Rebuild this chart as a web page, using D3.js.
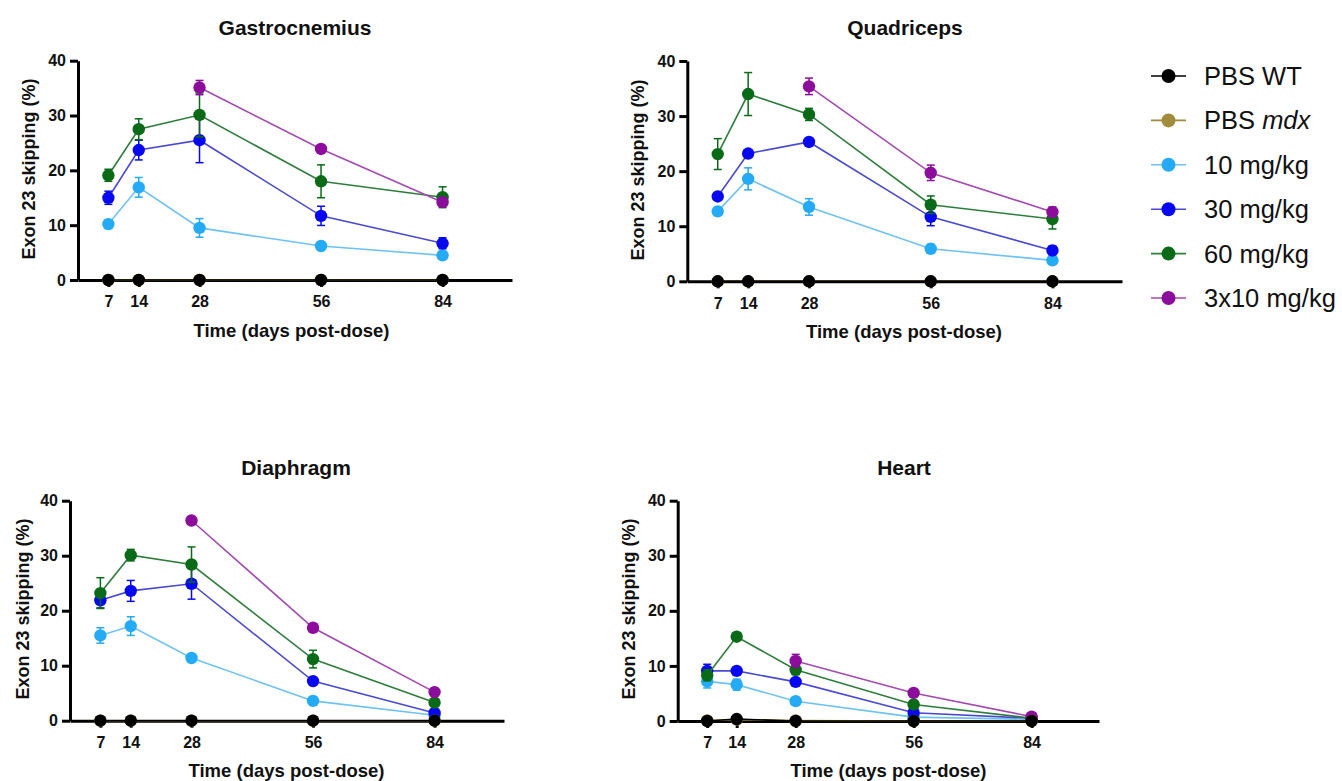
<!DOCTYPE html>
<html>
<head>
<meta charset="utf-8">
<script src="https://cdn.jsdelivr.net/npm/d3@7"></script>
<style>
  body { margin: 0; background: #fff; }
  svg { display: block; font-family: "Liberation Sans", Arial, sans-serif; }
</style>
</head>
<body>
<svg id="chart" width="1342" height="781"></svg>
<script>
// ---------- data ----------
const days = [7, 14, 28, 56, 84];
const yTicks = [0, 10, 20, 30, 40];
const seriesNames = ["PBS WT", "PBS mdx", "10 mg/kg", "30 mg/kg", "60 mg/kg", "3x10 mg/kg"];
const panelTitles = ["Gastrocnemius", "Quadriceps", "Diaphragm", "Heart"];

// means per series (order: WT, mdx, 10, 30, 60, 3x10)
const gastroMean = [
  [0, 0, 0, 0, 0],
  [0, 0, 0, 0, 0],
  [10.2, 16.9, 9.5, 6.2, 4.5],
  [15.0, 23.7, 25.5, 11.7, 6.7],
  [19.1, 27.5, 30.1, 18.0, 15.1],
  [null, null, 35.1, 23.9, 14.2]
];
const gastroErr = [
  [0, 0, 0, 0, 0],
  [0, 0, 0, 0, 0],
  [0.8, 1.8, 1.7, 0.3, 0.6],
  [1.2, 1.8, 4.1, 1.75, 1.0],
  [1.1, 1.9, 4.0, 3.0, 1.9],
  [null, null, 1.3, 0.3, 0.6]
];
const quadMean = [
  [0, 0, 0, 0, 0],
  [0, 0, 0, 0, 0],
  [12.7, 18.6, 13.5, 5.9, 3.8],
  [15.4, 23.2, 25.3, 11.7, 5.6],
  [23.1, 34.0, 30.3, 13.9, 11.3],
  [null, null, 35.4, 19.7, 12.6]
];
const quadErr = [
  [0, 0, 0, 0, 0],
  [0, 0, 0, 0, 0],
  [0.4, 2.0, 1.5, 0.8, 0.5],
  [0.3, 0.4, 0.4, 1.6, 0.8],
  [2.8, 3.9, 1.1, 1.6, 1.8],
  [null, null, 1.5, 1.4, 0.9]
];
const diaMean = [
  [0, 0, 0, 0, 0],
  [0, 0, 0, 0, 0],
  [15.5, 17.2, 11.4, 3.6, 1.0],
  [21.9, 23.6, 24.9, 7.2, 1.4],
  [23.2, 30.1, 28.4, 11.2, 3.3],
  [null, null, 36.4, 16.9, 5.2]
];
const diaErr = [
  [0, 0, 0, 0, 0],
  [0, 0, 0, 0, 0],
  [1.4, 1.7, 0.3, 0.3, 0.2],
  [1.4, 1.9, 2.8, 0.3, 0.3],
  [2.8, 1.05, 3.2, 1.6, 0.3],
  [null, null, 0.3, 0.3, 0.3]
];
const heartMean = [
  [0, 0.35, 0, 0, 0],
  [0.1, 0.25, 0.1, 0, 0],
  [7.2, 6.6, 3.6, 0.7, 0.3],
  [9.1, 9.1, 7.1, 1.5, 0.5],
  [8.3, 15.3, 9.3, 3.0, 0.5],
  [null, null, 10.9, 5.1, 0.8]
];
const heartErr = [
  [0, 0, 0, 0, 0],
  [0, 0, 0, 0, 0],
  [1.2, 1.0, 0.3, 0.2, 0.1],
  [1.2, 0.4, 0.3, 0.3, 0.1],
  [1.0, 0.4, 0.9, 0.3, 0.1],
  [null, null, 1.2, 0.3, 0.1]
];

// ---------- styles ----------
const markerColors = ["#000000", "#a08c3a", "#25aaf5", "#0808f0", "#0a6a18", "#8c0c9c"];
const lineColors   = ["#000000", "#a08c3a", "#6ec2f2", "#4a4ad0", "#2f7d3c", "#a24ab0"];
const drawOrder = [2, 3, 4, 5, 1, 0];

const panels = [
  { title: panelTitles[0], mean: gastroMean, err: gastroErr, x0: 78, x1: 512, yTop: 60.7, yBot: 280, titleX: 295, titleY: 34.5, xlabX: 291.5, xlabY: 336.5, ylabX: 35, ylabY: 169 },
  { title: panelTitles[1], mean: quadMean, err: quadErr, x0: 687.3, x1: 1122, yTop: 61, yBot: 281.3, titleX: 905, titleY: 34.5, xlabX: 904, xlabY: 337.5, ylabX: 644, ylabY: 170 },
  { title: panelTitles[2], mean: diaMean, err: diaErr, x0: 70, x1: 504, yTop: 500.7, yBot: 720.7, titleX: 296, titleY: 474.5, xlabX: 286.5, xlabY: 777, ylabX: 28.5, ylabY: 609 },
  { title: panelTitles[3], mean: heartMean, err: heartErr, x0: 677.7, x1: 1099, yTop: 500.7, yBot: 721, titleX: 904, titleY: 474.5, xlabX: 888.5, xlabY: 777, ylabX: 635, ylabY: 609 }
];

const svg = d3.select("#chart");

panels.forEach(p => {
  const x = d3.scaleLinear().domain([0, 100]).range([p.x0, p.x1]);
  const y = d3.scaleLinear().domain([0, 40]).range([p.yBot, p.yTop]);
  const g = svg.append("g");

  // axes
  const xAxis = g.append("g").attr("transform", `translate(0,${p.yBot})`)
    .call(d3.axisBottom(x).tickValues(days).tickSize(7).tickSizeOuter(0).tickPadding(9));
  const yAxis = g.append("g").attr("transform", `translate(${p.x0},0)`)
    .call(d3.axisLeft(y).tickValues(yTicks).tickSize(8).tickSizeOuter(0).tickPadding(4));
  [xAxis, yAxis].forEach(a => {
    a.select(".domain").attr("stroke", "#000").attr("stroke-width", 3);
    a.selectAll(".tick line").attr("stroke", "#000").attr("stroke-width", 3);
    a.selectAll(".tick text").attr("fill", "#111").attr("font-size", 16).attr("font-weight", "bold")
      .attr("font-family", "'Liberation Sans', Arial, sans-serif");
  });

  // titles
  g.append("text").attr("x", p.titleX).attr("y", p.titleY).attr("text-anchor", "middle")
    .attr("font-size", 21).attr("font-weight", "bold").attr("fill", "#111").text(p.title);
  g.append("text").attr("x", p.xlabX).attr("y", p.xlabY).attr("text-anchor", "middle")
    .attr("font-size", 18.5).attr("font-weight", "bold").attr("fill", "#111").text("Time (days post-dose)");
  g.append("text").attr("transform", `translate(${p.ylabX},${p.ylabY}) rotate(-90)`).attr("text-anchor", "middle")
    .attr("font-size", 18).attr("font-weight", "bold").attr("fill", "#111").text("Exon 23 skipping (%)");

  // series
  drawOrder.forEach(si => {
    const pts = days.map((d, i) => ({ d, v: p.mean[si][i], e: p.err[si][i] })).filter(o => o.v !== null);
    const line = d3.line().x(o => x(o.d)).y(o => y(o.v));
    const sg = g.append("g");
    sg.append("path").attr("d", line(pts)).attr("fill", "none")
      .attr("stroke", lineColors[si]).attr("stroke-width", 1.6);
    pts.filter(o => o.e > 0).forEach(o => {
      const eg = sg.append("g").attr("stroke", markerColors[si]).attr("stroke-width", 1.5);
      eg.append("line").attr("x1", x(o.d)).attr("x2", x(o.d)).attr("y1", y(o.v - o.e)).attr("y2", y(o.v + o.e));
      eg.append("line").attr("x1", x(o.d) - 4).attr("x2", x(o.d) + 4).attr("y1", y(o.v - o.e)).attr("y2", y(o.v - o.e));
      eg.append("line").attr("x1", x(o.d) - 4).attr("x2", x(o.d) + 4).attr("y1", y(o.v + o.e)).attr("y2", y(o.v + o.e));
    });
    sg.selectAll("circle").data(pts).enter().append("circle")
      .attr("cx", o => x(o.d)).attr("cy", o => y(o.v)).attr("r", 6.2)
      .attr("fill", markerColors[si]);
  });
});

// legend
const legend = svg.append("g");
seriesNames.forEach((name, i) => {
  const yy = 76 + i * 44.4;
  legend.append("line").attr("x1", 1151).attr("x2", 1186).attr("y1", yy).attr("y2", yy)
    .attr("stroke", lineColors[i]).attr("stroke-width", 1.6);
  legend.append("circle").attr("cx", 1168.5).attr("cy", yy).attr("r", 7).attr("fill", markerColors[i]);
  const t = legend.append("text").attr("x", 1204).attr("y", yy + 9).attr("font-size", 25.5).attr("fill", "#111");
  if (name === "PBS mdx") {
    t.append("tspan").text("PBS ");
    t.append("tspan").attr("font-style", "italic").text("mdx");
  } else {
    t.text(name);
  }
});
</script>
</body>
</html>
